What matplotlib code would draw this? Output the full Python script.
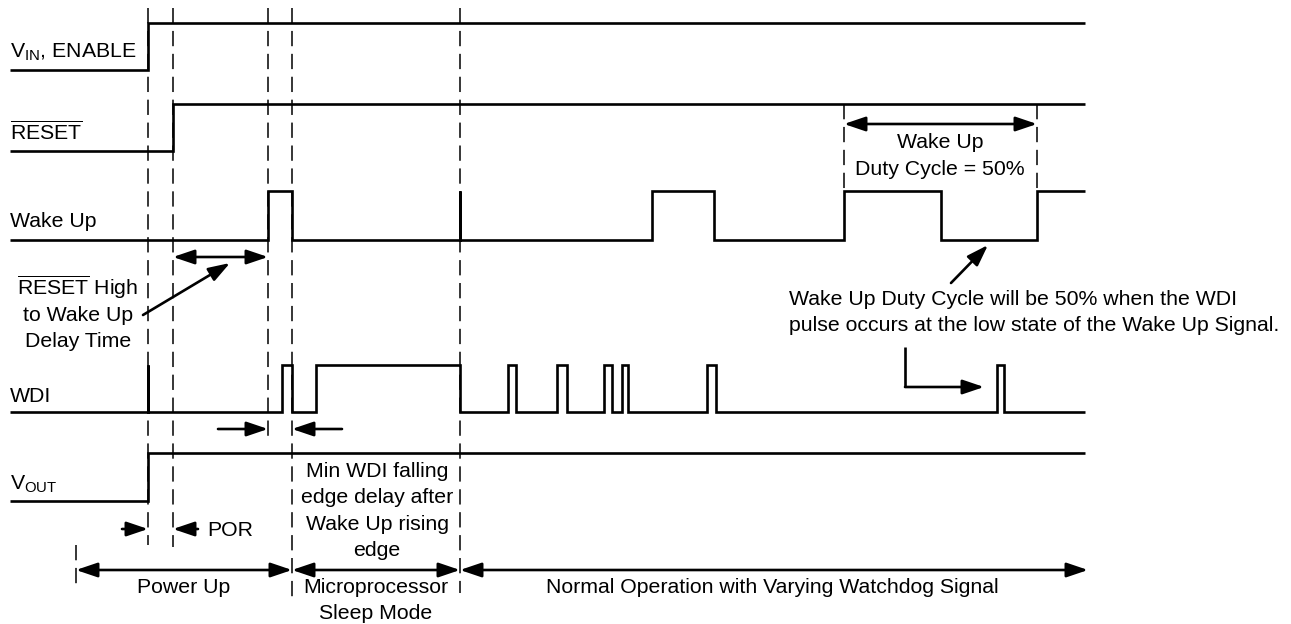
import matplotlib.pyplot as plt

plt.rcParams['font.family'] = ['Liberation Sans', 'DejaVu Sans']
plt.rcParams['mathtext.fontset'] = 'custom'
plt.rcParams['mathtext.rm'] = 'Liberation Sans'
plt.rcParams['mathtext.it'] = 'Liberation Sans'
plt.rcParams['mathtext.default'] = 'regular'

# time span of the waveforms
t_start = 10
t_end = 1085

# signal rows: label, low level, high level, edge times (starts low)
labels = [r'$V_{IN}$, ENABLE', r'$\overline{RESET}$', 'Wake Up', 'WDI', r'$V_{OUT}$']
label_y = [58, 140, 227, 402, 490]
low_level = [70, 151, 240, 412, 501]
high_level = [23, 104, 191, 365, 453]
vin_edges = [148]
reset_edges = [173]
wake_edges = [268, 292, 460, 460, 652, 714, 844, 941, 1037]
wdi_edges = [148, 148, 282, 292, 316, 460, 508, 516, 557, 567, 604, 612,
             622, 628, 707, 716, 997, 1004]
vout_edges = [148]
all_edges = [vin_edges, reset_edges, wake_edges, wdi_edges, vout_edges]

# dashed markers: x, top, bottom
dash_x = [148, 173, 268, 292, 460, 76, 844, 1037]
dash_top = [8, 8, 8, 8, 8, 545, 104, 104]
dash_bot = [545, 547, 437, 597, 593, 585, 191, 191]

fs = 15.3
fig = plt.figure(figsize=(12.91, 6.24), dpi=100)
ax = fig.add_axes([0, 0, 1, 1])
ax.set_xlim(0, 1291)
ax.set_ylim(624, 0)
ax.axis('off')


def step(edges, lo, hi):
    xs, ys = [t_start], [lo]
    cur = lo
    for e in edges:
        xs.append(e)
        ys.append(cur)
        cur = hi if cur == lo else lo
        xs.append(e)
        ys.append(cur)
    xs.append(t_end)
    ys.append(cur)
    return xs, ys


for lab, ly, lo, hi, edges in zip(labels, label_y, low_level, high_level, all_edges):
    xs, ys = step(edges, lo, hi)
    ax.plot(xs, ys, color='black', lw=1.9, solid_joinstyle='miter', solid_capstyle='butt')
    ax.text(10, ly, lab, fontsize=fs, va='baseline', ha='left')

for x, y0, y1 in zip(dash_x, dash_top, dash_bot):
    ax.plot([x, x], [y0, y1], color='black', lw=1.1, dashes=(10, 5))


def arrow(x0, y0, x1, y1, style='-|>'):
    ax.annotate('', xy=(x1, y1), xytext=(x0, y0),
                arrowprops=dict(arrowstyle=style + ',head_length=0.65,head_width=0.22',
                                color='black', lw=1.9, shrinkA=0, shrinkB=0,
                                mutation_scale=20))


# RESET high to wake up delay
arrow(173, 257, 268, 257, '<|-|>')
arrow(143, 315, 230, 263)
for i, s in enumerate([r'$\overline{RESET}$ High', 'to Wake Up', 'Delay Time']):
    ax.text(78, 295 + 26 * i, s, fontsize=fs, ha='center', va='baseline')

# min WDI falling edge delay
arrow(218, 429, 268, 429)
arrow(342, 429, 292, 429)
for i, s in enumerate(['Min WDI falling', 'edge delay after', 'Wake Up rising', 'edge']):
    ax.text(377, 477 + 26.3 * i, s, fontsize=fs, ha='center', va='baseline')

# POR
arrow(122, 529, 148, 529)
arrow(198, 529, 173, 529)
ax.text(207, 536, 'POR', fontsize=fs, ha='left', va='baseline')

# bottom phases
arrow(76, 570, 292, 570, '<|-|>')
arrow(292, 570, 460, 570, '<|-|>')
arrow(460, 570, 1088, 570, '<|-|>')
ax.text(184, 593, 'Power Up', fontsize=fs, ha='center', va='baseline')
ax.text(376, 593, 'Microprocessor', fontsize=fs, ha='center', va='baseline')
ax.text(376, 619, 'Sleep Mode', fontsize=fs, ha='center', va='baseline')
ax.text(772, 593, 'Normal Operation with Varying Watchdog Signal', fontsize=fs,
        ha='center', va='baseline')

# duty cycle
arrow(844, 124, 1037, 124, '<|-|>')
ax.text(940, 148, 'Wake Up', fontsize=fs, ha='center', va='baseline')
ax.text(940, 175, 'Duty Cycle = 50%', fontsize=fs, ha='center', va='baseline')
arrow(951, 283, 988, 245)
ax.text(789, 305, 'Wake Up Duty Cycle will be 50% when the WDI', fontsize=fs,
        ha='left', va='baseline')
ax.text(789, 331, 'pulse occurs at the low state of the Wake Up Signal.', fontsize=fs,
        ha='left', va='baseline')
ax.plot([905, 905], [347, 387], color='black', lw=1.9, solid_capstyle='butt')
arrow(905, 387, 984, 387)

fig.savefig('out.png', dpi=100)
